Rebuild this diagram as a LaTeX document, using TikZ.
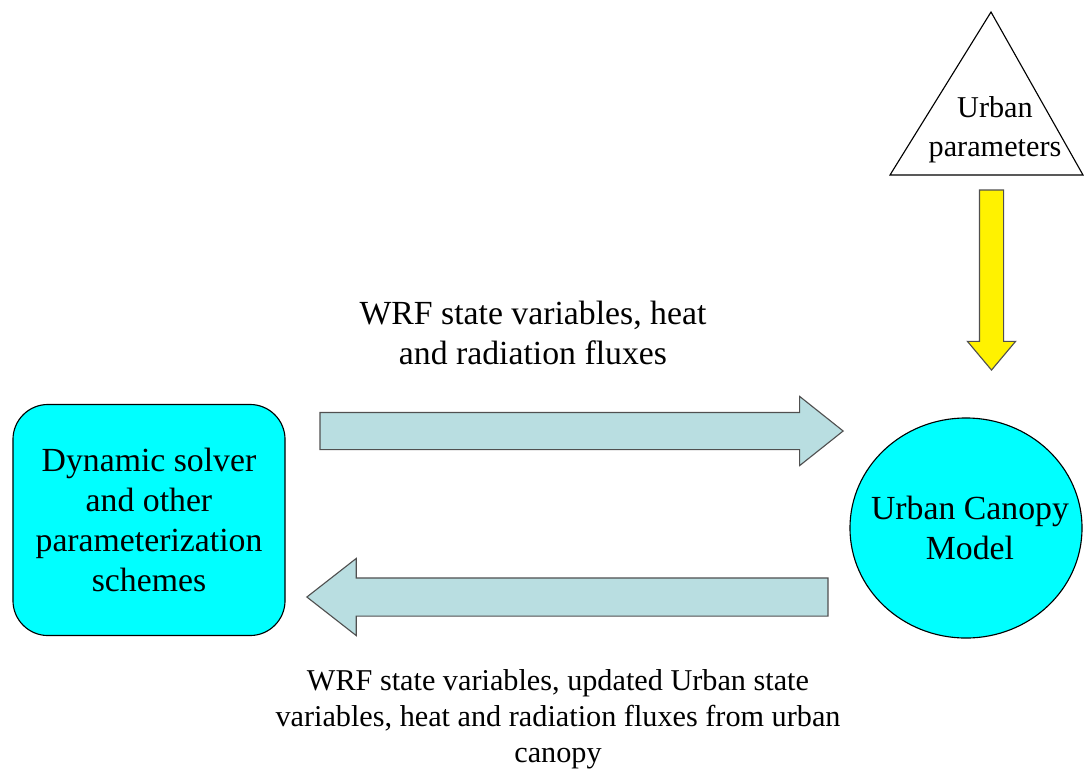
\documentclass[tikz,border=0pt]{standalone}
\usepackage{fontspec}
\setmainfont{Liberation Serif}
\usetikzlibrary{shapes.geometric,shapes.arrows}
\definecolor{boxcyan}{RGB}{0,255,255}
\definecolor{flowblue}{RGB}{185,222,225}
\definecolor{edgegray}{RGB}{80,80,80}

\begin{document}
\begin{tikzpicture}[x=0.025cm,y=-0.025cm,
    every node/.style={inner sep=0pt, outer sep=0pt},
    bigtext/.style={font=\fontsize{24}{28.5}\selectfont, align=center},
    smalltext/.style={font=\fontsize{21.5}{25.5}\selectfont, align=center},
    flow/.style={single arrow, draw=edgegray, line width=0.8pt, single arrow head indent=0pt, anchor=tail}]
    \useasboundingbox (0,0) rectangle (1084,772);
    % model blocks
    \node[bigtext, draw, fill=boxcyan, line width=0.8pt, rounded corners=0.875cm, minimum width=6.8cm, minimum height=5.775cm] (solver) at (149,520) {Dynamic solver\\and other\\parameterization\\schemes};
    \node[ellipse, draw, fill=boxcyan, line width=0.8pt, minimum width=5.8cm, minimum height=5.5cm] (ucm) at (966,528) {};
    \node[bigtext] (ucmtext) at (970,528) {Urban Canopy\\Model};
    % parameters
    \draw[line width=0.8pt] (991,12) -- (1083,175) -- (890,175) -- cycle;
    \node[font=\fontsize{21.5}{27.5}\selectfont, align=center] (params) at (995,130) {Urban\\parameters};
    \node[flow, fill=yellow, shape border rotate=270, inner xsep=0.2875cm, minimum height=4.5cm, single arrow head extend=0.3cm, single arrow tip angle=80] (paramflow) at (991.5,190) {};
    % exchange
    \node[flow, fill=flowblue, inner ysep=0.45cm, minimum height=13.075cm, single arrow head extend=0.4cm, single arrow tip angle=77] (toucm) at (320,431) {};
    \node[flow, fill=flowblue, shape border rotate=180, inner ysep=0.4625cm, minimum height=13.025cm, single arrow head extend=0.4875cm, single arrow tip angle=76] (fromucm) at (828,597) {};
    \node[bigtext] (tolabel) at (533,333) {WRF state variables, heat\\and radiation fluxes};
    \node[smalltext] (fromlabel) at (558,719) {WRF state variables, updated Urban state\\variables, heat and radiation fluxes from urban\\canopy};
\end{tikzpicture}
\end{document}
